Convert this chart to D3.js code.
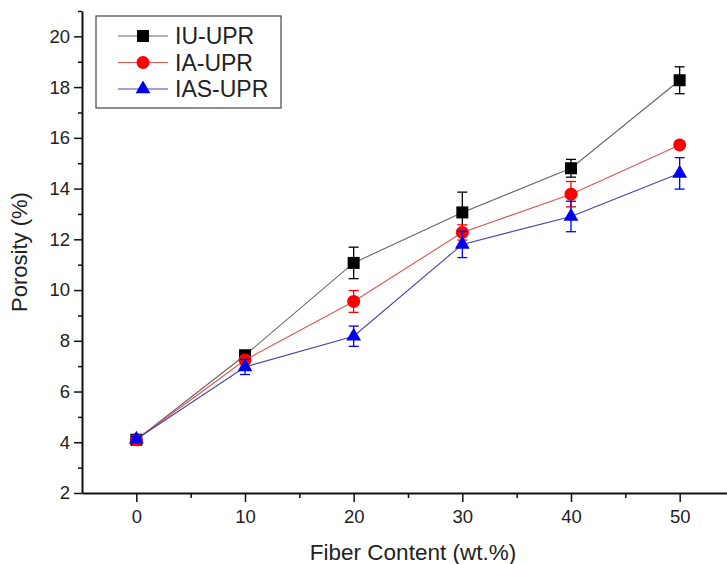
<!DOCTYPE html>
<html>
<head>
<meta charset="utf-8">
<script src="https://cdn.jsdelivr.net/npm/d3@7"></script>
<style>
  body { margin: 0; background: #fff; }
  svg { font-family: "Liberation Sans", Arial, sans-serif; }
</style>
</head>
<body>
<svg id="chart" width="727" height="564"></svg>
<script>
// fiber content (wt.%)
const fiber = [0, 10, 20, 30, 40, 50];
const seriesNames = ['IU-UPR', 'IA-UPR', 'IAS-UPR'];
const iuValues = [4.1, 7.43, 11.07, 13.06, 14.8, 18.27];
const iuErr    = [0.1, 0.1, 0.62, 0.8, 0.35, 0.53];
const iaValues = [4.1, 7.24, 9.55, 12.27, 13.78, 15.72];
const iaErr    = [0.1, 0.15, 0.43, 0.3, 0.5, 0.1];
const iasValues = [4.12, 6.97, 8.18, 11.8, 12.9, 14.6];
const iasErr    = [0.1, 0.3, 0.4, 0.52, 0.6, 0.62];
const yMajor = [2, 4, 6, 8, 10, 12, 14, 16, 18, 20];
const yMinor = [3, 5, 7, 9, 11, 13, 15, 17, 19, 21];
const xMajor = [0, 10, 20, 30, 40, 50];
const xMinor = [5, 15, 25, 35, 45];

const svg = d3.select('#chart');
const margin = { left: 82, top: 11, bottom: 71 };
const height = 564;

const x = d3.scaleLinear().domain([-5, 55]).range([margin.left, 734]);
const y = d3.scaleLinear().domain([2, 21]).range([height - margin.bottom, margin.top]);

// axes
const yAxisG = svg.append('g').attr('transform', `translate(${margin.left},0)`);
yAxisG.call(d3.axisLeft(y).tickValues(yMinor).tickSize(4).tickFormat('').tickSizeOuter(0));
yAxisG.call(g => g.select('.domain').remove());
const yMaj = svg.append('g').attr('transform', `translate(${margin.left},0)`)
  .call(d3.axisLeft(y).tickValues(yMajor).tickSize(8).tickPadding(4).tickSizeOuter(0));

const xAxisG = svg.append('g').attr('transform', `translate(0,${height - margin.bottom})`);
xAxisG.call(d3.axisBottom(x).tickValues(xMinor).tickSize(5).tickFormat('').tickSizeOuter(0));
xAxisG.call(g => g.select('.domain').remove());
const xMaj = svg.append('g').attr('transform', `translate(0,${height - margin.bottom})`)
  .call(d3.axisBottom(x).tickValues(xMajor).tickSize(9).tickPadding(8).tickSizeOuter(0));

svg.selectAll('.domain').attr('stroke', '#111').attr('stroke-width', 2);
svg.selectAll('.tick line').attr('stroke', '#111').attr('stroke-width', 1.5);
svg.selectAll('.tick text').attr('font-size', 18.5).attr('fill', '#222')
  .attr('font-family', '"Liberation Sans", Arial, sans-serif');

svg.append('text')
  .attr('transform', `translate(27,${y(11.5)}) rotate(-90)`)
  .attr('text-anchor', 'middle')
  .attr('font-size', 22).attr('fill', '#222')
  .text('Porosity (%)');

svg.append('text')
  .attr('x', 413).attr('y', 560)
  .attr('text-anchor', 'middle')
  .attr('font-size', 22.5).attr('fill', '#222')
  .text('Fiber Content (wt.%)');

// series
const series = [
  { name: seriesNames[0], vals: iuValues, err: iuErr, color: '#000', line: '#666', shape: 'square' },
  { name: seriesNames[1], vals: iaValues, err: iaErr, color: '#f00', line: '#d55', shape: 'circle' },
  { name: seriesNames[2], vals: iasValues, err: iasErr, color: '#00e', line: '#44a', shape: 'triangle' }
];

function marker(sel, shape, color) {
  if (shape === 'square') {
    sel.append('rect').attr('x', -6).attr('y', -6).attr('width', 12).attr('height', 12).attr('fill', color);
  } else if (shape === 'circle') {
    sel.append('circle').attr('r', 6.5).attr('fill', color);
  } else {
    sel.append('path').attr('d', d3.symbol(d3.symbolTriangle, 95)()).attr('fill', color);
  }
}

const line = d3.line().x(d => x(d.x)).y(d => y(d.v));

series.forEach(s => {
  const pts = fiber.map((f, i) => ({ x: f, v: s.vals[i], e: s.err[i] }));
  const g = svg.append('g');
  g.append('path').datum(pts)
    .attr('d', line).attr('fill', 'none')
    .attr('stroke', s.line).attr('stroke-width', 1.1);
  const eb = g.selectAll('.eb').data(pts).enter().append('g');
  eb.append('line')
    .attr('x1', d => x(d.x)).attr('x2', d => x(d.x))
    .attr('y1', d => y(d.v - d.e)).attr('y2', d => y(d.v + d.e))
    .attr('stroke', s.color).attr('stroke-width', 1.3);
  [-1, 1].forEach(sign => {
    eb.append('line')
      .attr('x1', d => x(d.x) - 5).attr('x2', d => x(d.x) + 5)
      .attr('y1', d => y(d.v + sign * d.e)).attr('y2', d => y(d.v + sign * d.e))
      .attr('stroke', s.color).attr('stroke-width', 1.3);
  });
  g.selectAll('.mk').data(pts).enter().append('g')
    .attr('transform', d => `translate(${x(d.x)},${y(d.v)})`)
    .each(function () { marker(d3.select(this), s.shape, s.color); });
});

// legend
const leg = svg.append('g');
leg.append('rect').attr('x', 96).attr('y', 16).attr('width', 185).attr('height', 92)
  .attr('fill', '#fff').attr('stroke', '#444').attr('stroke-width', 1.2);
series.forEach((s, i) => {
  const ly = 36 + i * 26.5;
  leg.append('line').attr('x1', 118).attr('x2', 168).attr('y1', ly).attr('y2', ly)
    .attr('stroke', s.line).attr('stroke-width', 1.1);
  const m = leg.append('g').attr('transform', `translate(143,${ly})`);
  marker(m, s.shape, s.color);
  leg.append('text').attr('x', 175).attr('y', ly + 8)
    .attr('font-size', 23).attr('fill', '#222').text(s.name);
});
</script>
</body>
</html>
